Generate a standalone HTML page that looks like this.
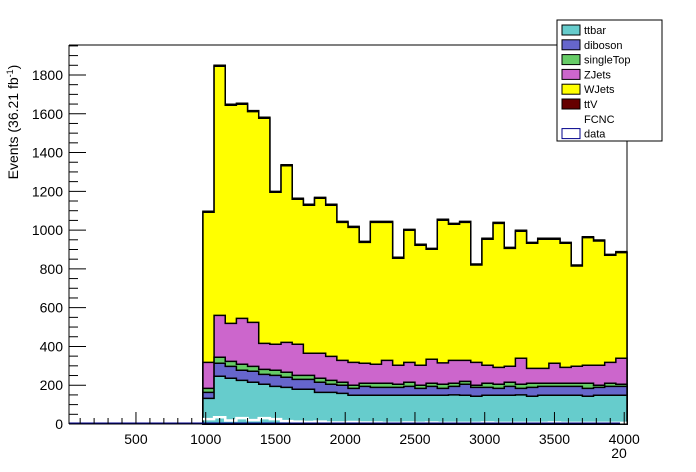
<!DOCTYPE html>
<html><head><meta charset="utf-8">
<style>
body{margin:0;background:#fff;}
svg{display:block;font-family:"Liberation Sans",Arial,sans-serif;}
</style></head>
<body>
<svg id="chart" width="696" height="472">
<rect x="0" y="0" width="696" height="472" fill="#fff"/>
<g id="bars"></g>
<g id="axes"></g>
<text x="18" y="122" transform="rotate(-90 18 122)" text-anchor="middle" font-size="14">Events (36.21 fb<tspan baseline-shift="super" font-size="9">-1</tspan>)</text>
<text x="619" y="458" text-anchor="middle" font-size="14">20</text>
<g id="legend"></g>
</svg>
<script>
const binStart = 980, binWidth = 80;
const ttbar = [132,246,236,225,215,205,194,189,179,179,163,163,158,148,148,148,148,148,148,148,148,148,150,148,143,148,148,148,150,143,148,148,148,148,143,148,148,148];
const diboson = [31,67,61,52,57,51,57,52,51,51,52,42,42,36,46,41,41,41,46,36,46,36,44,57,46,41,36,46,34,46,46,46,46,46,41,41,46,46];
const singleTop = [21,31,26,31,25,26,26,26,21,21,21,20,15,16,16,21,21,16,21,16,16,21,16,15,11,21,21,21,21,21,16,16,16,16,26,11,16,11];
const ZJets = [134,216,196,237,227,134,134,154,160,114,129,124,113,118,103,98,118,98,103,103,124,110,118,108,118,93,87,83,134,77,77,103,82,88,93,103,108,134];
const WJets = [774,1285,1125,1104,1087,1161,784,911,748,763,799,779,712,696,624,732,712,552,681,619,567,736,702,712,502,650,743,608,655,645,666,640,640,517,658,641,552,545];
const ttV = [5,5,5,5,5,5,5,5,5,5,5,5,5,5,5,5,5,5,5,5,5,5,5,5,5,5,5,5,5,5,5,5,5,5,5,5,5,5];
const FCNC = [25,35,18,30,20,30,25,15,12,10,12,8,8,10,8,8,6,6,8,6,8,6,6,6,6,8,6,6,6,6,6,8,6,6,6,6,6,6];
const yTicks = [0,200,400,600,800,1000,1200,1400,1600,1800];
const xTicks = [500,1000,1500,2000,2500,3000,3500,4000];
const seriesNames = ["ttbar","diboson","singleTop","ZJets","WJets","ttV"];
const seriesColors = ["#66cccc","#6666cc","#66cc66","#cc66cc","#ffff00","#660000"];

const NS="http://www.w3.org/2000/svg";
const X0=69,X1=627,Y0=424,YT=45,xmin=20,xmax=4020,ymax=(424-45)/0.1939;
const xs=v=>X0+(v-xmin)/(xmax-xmin)*(X1-X0);
const ys=v=>Y0-v/ymax*(Y0-YT);
function mk(tag,attrs,parent){const e=document.createElementNS(NS,tag);for(const k in attrs)e.setAttribute(k,attrs[k]);parent.appendChild(e);return e;}

const bars=document.getElementById('bars');
const all=[ttbar,diboson,singleTop,ZJets,WJets,ttV];
const n=ttbar.length;
const cum=[];let base=new Array(n).fill(0);
all.forEach(s=>{const top=base.map((b,i)=>b+s[i]);cum.push({base:base,top:top});base=top;});
for(let si=all.length-1;si>=0;si--){
  const top=cum[si].top;
  let d=`M${xs(binStart)},${ys(0)}`;
  for(let i=0;i<n;i++){const a=xs(binStart+i*binWidth),b=xs(binStart+(i+1)*binWidth);d+=` L${a},${ys(top[i])} L${b},${ys(top[i])}`;}
  d+=` L${xs(binStart+n*binWidth)},${ys(0)} Z`;
  const p=mk('path',{d:d,fill:seriesColors[si],stroke:'#000','stroke-width':1.5},bars);
  
  
}
{let d='';for(let i=0;i<n;i++){const a=xs(binStart+i*binWidth),b=xs(binStart+(i+1)*binWidth);d+=(i?' L':'M')+`${a},${ys(FCNC[i])} L${b},${ys(FCNC[i])}`;}
const p=mk('path',{d:d,fill:'none',stroke:'#fff','stroke-width':2.5},bars);

}
{const l=mk('line',{x1:X0,y1:Y0-0.5,x2:620,y2:Y0-0.5,stroke:'#00008b','stroke-width':2},bars);

}

const ax=document.getElementById('axes');
mk('line',{x1:X0,y1:YT,x2:X1,y2:YT,stroke:'#000','stroke-width':1},ax);
mk('line',{x1:X1,y1:YT,x2:X1,y2:Y0,stroke:'#000','stroke-width':1},ax);
mk('line',{x1:X0,y1:YT,x2:X0,y2:Y0,stroke:'#000','stroke-width':1},ax);
mk('line',{x1:X0,y1:Y0,x2:X1,y2:Y0,stroke:'#000','stroke-width':1},ax);
for(let v=0;v<=ymax;v+=50){const maj=v%200===0;mk('line',{x1:X0,y1:ys(v),x2:X0+(maj?17:9),y2:ys(v),stroke:'#000'},ax);}
yTicks.forEach(v=>{const t=mk('text',{x:X0-6,y:ys(v)+5,'text-anchor':'end','font-size':14},ax);t.textContent=v;

});
for(let v=100;v<=4000;v+=100){const maj=v%500===0;mk('line',{x1:xs(v),y1:Y0,x2:xs(v),y2:Y0-(maj?12:6),stroke:'#000'},ax);}
xTicks.forEach(v=>{const t=mk('text',{x:xs(v),y:Y0+20,'text-anchor':'middle','font-size':14},ax);t.textContent=v;

});

const lg=document.getElementById('legend');
mk('rect',{x:557,y:20,width:105,height:121,fill:'#fff',stroke:'#000'},lg);
const lnames=["ttbar","diboson","singleTop","ZJets","WJets","ttV","FCNC","data"];
const lcols=["#66cccc","#6666cc","#66cc66","#cc66cc","#ffff00","#660000",null,"#fff"];
lnames.forEach((nm,i)=>{const y=24+i*14.8;
 if(lcols[i]){mk('rect',{x:562,y:y+1,width:18,height:10,fill:lcols[i],stroke:i===7?'#00008b':'#000'},lg);}
 const t=mk('text',{x:584,y:y+10,'font-size':11},lg);t.textContent=nm;
 
 });
</script>
</body></html>
